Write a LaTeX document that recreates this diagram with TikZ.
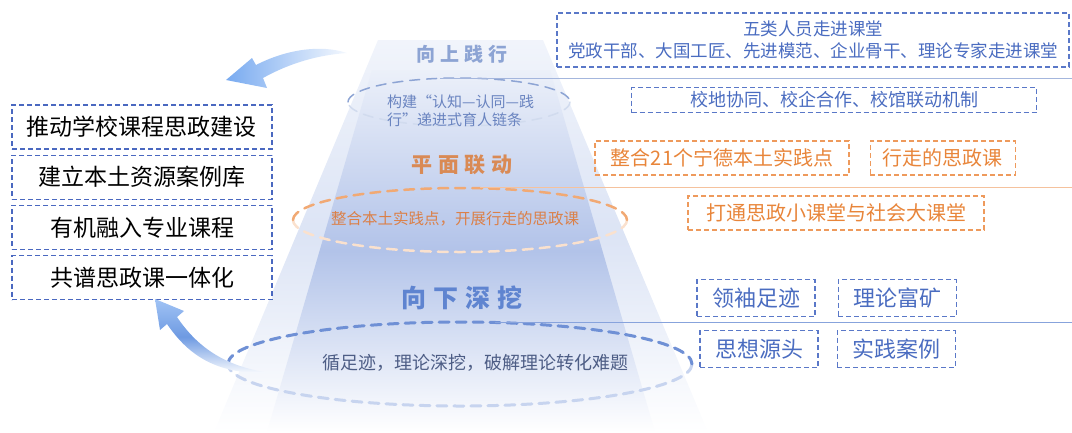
\documentclass[tikz,border=0pt]{standalone}
\usepackage{fontspec}
\setmainfont{Noto Sans CJK SC}
\usetikzlibrary{positioning,arrows.meta,calc}

\definecolor{leftline}{HTML}{4A68C0}
\definecolor{blueline}{HTML}{5A78C8}
\definecolor{bluetext}{HTML}{4A6CC0}
\definecolor{orangeline}{HTML}{EE9A5C}
\definecolor{orangetext}{HTML}{E8853A}
\definecolor{pyrouter}{HTML}{DCE4F5}
\definecolor{pyrinner}{HTML}{B2C3E9}
\definecolor{uptitle}{HTML}{8DA4D4}
\definecolor{uptext}{HTML}{6A84C0}
\definecolor{midtitle}{HTML}{D98A55}
\definecolor{midtext}{HTML}{DB8048}
\definecolor{lowtitle}{HTML}{5F84D0}
\definecolor{lowtext}{HTML}{4D5D85}
\definecolor{arrowblue}{HTML}{78AAF0}
\definecolor{arrowdeep}{HTML}{6E9AE2}

\newcommand{\titlefont}[1]{\fontsize{#1}{#1}\selectfont\bfseries\addfontfeature{LetterSpace=28}}

\begin{document}
\begin{tikzpicture}[x=1pt, y=-1pt, node distance=5pt and 20pt,
  leftbox/.style={draw=leftline, dash pattern=on 5pt off 3pt, line width=1.2pt, fill=white,
    minimum width=260pt, minimum height=44pt, inner sep=0pt, font=\fontsize{23}{27}\selectfont},
  bluebox/.style={draw=blueline, dash pattern=on 5pt off 3pt, line width=1.2pt, text=bluetext,
    inner sep=0pt, align=center, font=\fontsize{18}{22}\selectfont},
  orangebox/.style={draw=orangeline, dash pattern=on 5pt off 3pt, line width=1.2pt, text=orangetext,
    minimum height=34pt, inner sep=0pt, font=\fontsize{20}{24}\selectfont},
  tagbox/.style={bluebox, minimum width=118pt, minimum height=37pt, font=\fontsize{22}{26}\selectfont},
  ringhi/.style={dash pattern=on 10pt off 7pt, line cap=round},
  ringlo/.style={dash pattern=on 10pt off 7pt, line cap=round},
]
\useasboundingbox (0,0) rectangle (1072,432);

% pyramid
\shade[top color=pyrouter!40, bottom color=white, middle color=pyrouter]
  (378,40) -- (543,40) -- (708,432) -- (214,432) -- cycle;
\shade[top color=pyrouter!55, bottom color=white, middle color=pyrinner]
  (372,70) -- (550,70) -- (655,432) -- (267,432) -- cycle;

% rings
\coordinate (c1) at (459,102);
\coordinate (c2) at (460,220);
\coordinate (c3) at (460,364);
\draw[ringlo, draw=uptitle!40, line width=1.5pt] (c1) ++(111,0) arc[start angle=0, end angle=180, x radius=111, y radius=24];
\draw[ringhi, draw=uptitle, line width=1.5pt] (c1) ++(-111,0) arc[start angle=180, end angle=360, x radius=111, y radius=24];
\draw[ringlo, draw=orangeline!30, line width=2.5pt] (c2) ++(167,0) arc[start angle=0, end angle=180, x radius=167, y radius=32];
\draw[ringhi, draw=orangeline!85, line width=2.5pt] (c2) ++(-167,0) arc[start angle=180, end angle=360, x radius=167, y radius=32];
\draw[ringlo, draw=lowtitle!35, line width=3pt] (c3) ++(232,0) arc[start angle=0, end angle=180, x radius=232, y radius=42];
\draw[ringhi, draw=lowtitle!90, line width=3pt] (c3) ++(-232,0) arc[start angle=180, end angle=360, x radius=232, y radius=42];

% links to the right edge
\coordinate (k1) at (440,78);
\coordinate (k2) at (480,187);
\coordinate (k3) at (495,322);
\coordinate (k1e) at (1072,78);
\coordinate (k2e) at (1072,187);
\coordinate (k3e) at (1072,322);
\draw[uptitle!80, line width=0.8pt] (k1) -- (k1e);
\draw[orangeline!60, line width=0.8pt] (k2) -- (k2e);
\draw[lowtitle!75, line width=0.8pt] (k3) -- (k3e);

% titles and ring texts
\node[text=uptitle, font=\titlefont{19}] (up) at (462,54) {向上践行};
\node[text=midtitle, font=\titlefont{21}] (mid) at (462,165) {平面联动};
\node[text=lowtitle, font=\titlefont{25}] (low) at (462,298) {向下深挖};
\node[text=uptext, anchor=west, align=left, inner sep=0pt, font=\fontsize{15}{18}\selectfont] (t1) at (387,111)
  {构建“认知—认同—践\\行”递进式育人链条};
\node[text=midtext, font=\fontsize{15.5}{18}\selectfont] (t2) at (455,219) {整合本土实践点，开展行走的思政课};
\node[text=lowtext, font=\fontsize{18}{22}\selectfont] (t3) at (475,363) {循足迹，理论深挖，破解理论转化难题};

% left column
\node[leftbox] (lb1) at (142,127) {推动学校课程思政建设};
\node[leftbox, below=of lb1] (lb2) {建立本土资源案例库};
\node[leftbox, below=of lb2] (lb3) {有机融入专业课程};
\node[leftbox, below=of lb3] (lb4) {共谱思政课一体化};

% right column
\node[bluebox, minimum width=512pt, minimum height=54pt, font=\fontsize{17.5}{22}\selectfont] (five) at (813,40)
  {五类人员走进课堂\\党政干部、大国工匠、先进模范、企业骨干、理论专家走进课堂};
\node[bluebox, minimum width=405pt, minimum height=25pt] (mech) at (834,100) {校地协同、校企合作、校馆联动机制};
\node[orangebox, minimum width=254pt] (sites) at (722,158) {整合21个宁德本土实践点};
\node[orangebox, minimum width=145pt, right=of sites] (walk) {行走的思政课};
\node[orangebox, minimum width=296pt] (bridge) at (836,213) {打通思政小课堂与社会大课堂};
\node[tagbox] (foot) at (756,298) {领袖足迹};
\node[tagbox, right=22pt of foot] (mine) {理论富矿};
\node[tagbox] (source) at (759,349) {思想源头};
\node[tagbox, right=18pt of source] (case) {实践案例};

% curved arrows
\shade[left color=arrowblue, right color=arrowblue!8]
  (226,80) -- (252,58) -- (256,65) .. controls (285,50) and (320,44) .. (347,53)
  .. controls (318,55) and (290,63) .. (263,78) -- (267,88) -- cycle;
\shade[top color=arrowblue!70, bottom color=white, middle color=arrowdeep]
  (155,299) -- (184,311) -- (177,317) .. controls (196,345) and (222,366) .. (270,373)
  .. controls (214,375) and (187,353) .. (167,324) -- (160,330) -- cycle;
\end{tikzpicture}
\end{document}
